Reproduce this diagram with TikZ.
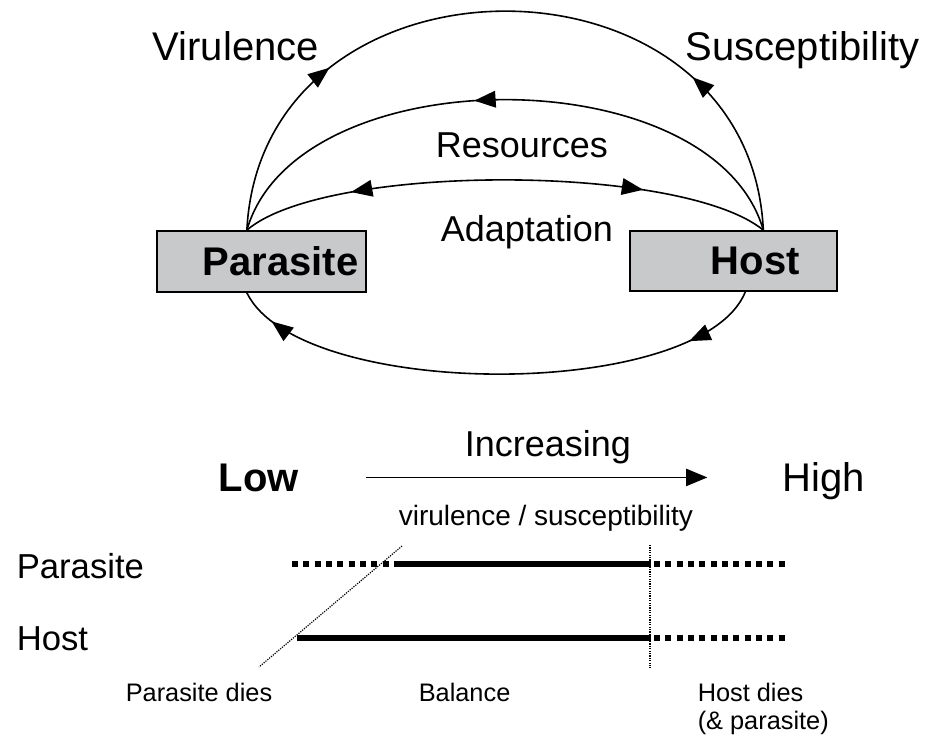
\documentclass[tikz,border=0pt]{standalone}
\usepackage{fontspec}
\setmainfont{Liberation Sans}
\usetikzlibrary{arrows.meta, decorations.markings}
\definecolor{boxgray}{RGB}{200,201,203}
\tikzset{
    tipH/.tip={Triangle[length=16pt, width=12.5pt]},
    fwd/.style={postaction={decorate, decoration={markings, mark=at position #1 with {\arrow{tipH}}}}},
    bwd/.style={postaction={decorate, decoration={markings, mark=at position #1 with {\arrowreversed{tipH}}}}},
}

\begin{document}
\begin{tikzpicture}[x=0.75pt, y=-0.75pt, line width=1.2pt,
    box/.style={draw, fill=boxgray, line width=1.3pt, inner sep=0pt},
    lbl/.style={inner sep=0pt, anchor=base west},
    big/.style={lbl, font=\fontsize{30}{36}\selectfont},
    bigb/.style={lbl, font=\fontsize{30}{36}\selectfont\bfseries},
    mid/.style={lbl, font=\fontsize{27}{32}\selectfont},
    side/.style={lbl, font=\fontsize{26}{31}\selectfont},
    small/.style={lbl, font=\fontsize{21}{25}\selectfont},
    foot/.style={lbl, font=\fontsize{19}{23}\selectfont},
    bar/.style={line width=4.2pt},
    dotbar/.style={line width=4.5pt, dash pattern=on 4.5pt off 4pt},
    thindot/.style={line width=0.9pt, dash pattern=on 0.9pt off 0.9pt}]
\useasboundingbox (0,0) rectangle (927,736);
\begin{scope}
    \node[box, minimum width=156.75pt, minimum height=45.75pt] (parasite) at (261.5,261.5) {};
    \node[box, minimum width=155.25pt, minimum height=45pt] (host) at (733.5,261) {};
    \node[bigb] (ptext) at (202,275) {Parasite};
    \node[bigb] (htext) at (710,274) {Host};
    \node[big] (vir) at (152,60) {Virulence};
    \node[big] (sus) at (685,60) {Susceptibility};
    \node[mid] (res) at (435,157) {Resources};
    \node[mid] (adp) at (440,241) {Adaptation};

    \draw[fwd=0.25, bwd=0.77] (parasite.115) .. controls +(15,-292) and +(-14,-292) .. (host.46);
    \draw[bwd=0.45] (parasite.115) .. controls +(50,-174) and +(-50,-174) .. (host.46);
    \draw[bwd=0.21, fwd=0.76] (parasite.115) .. controls +(78,-67) and +(-82,-67) .. (host.46);
    \draw[fwd=0.14, fwd=0.93] (host.291) .. controls +(-45,110) and +(53,108) .. (parasite.245);
\end{scope}
%\draw[help lines] (0,0) grid[step=50] (927,736);
\begin{scope}
    \node[bigb] (low) at (218,491) {Low};
    \node[big] (high) at (782,491) {High};
    \node[mid] (inc) at (464,456) {Increasing};
    \node[small] (vs) at (398,525) {virulence / susceptibility};
    \draw[-{Triangle[length=16pt, width=13pt]}, shorten <=49.5pt, shorten >=56pt] (low.east) -- (low.east -| high.west);

    \node[side] (prow) at (16,578) {Parasite};
    \node[side] (hrow) at (16,650) {Host};
    \node[foot] (pdie) at (125,701) {Parasite dies};
    \node[foot] (bal) at (418,701) {Balance};
    \node[foot] (hdie) at (697,701) {Host dies};
    \node[foot] (hpar) at (697,729) {(\& parasite)};

    \draw[dotbar] (292,564) -- (393,564);
    \draw[bar] (394,564) -- (651,564);
    \draw[dotbar] (654,564) -- (787,564);
    \draw[bar] (297,638) -- (651,638);
    \draw[dotbar] (654,638) -- (787,638);
    \draw[thindot] (402,546) -- (259,667);
    \draw[thindot] (650,545) -- (650,668);
\end{scope}
\end{tikzpicture}
\end{document}
